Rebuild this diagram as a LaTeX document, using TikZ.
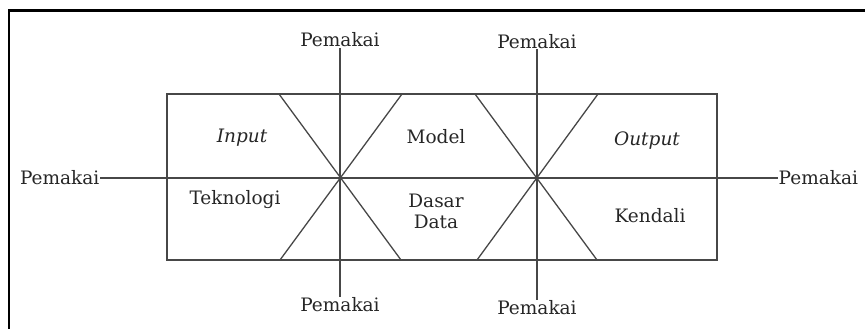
\documentclass[tikz,border=0pt]{standalone}
\usepackage{fontspec}
\setmainfont{DejaVu Serif}
\begin{document}
\begin{tikzpicture}[x=1pt,y=-1pt,
  ln/.style={draw=black!72, line width=1.3pt},
  lbl/.style={font=\fontsize{18.5}{21}\selectfont, text=black!85, inner sep=0.5pt},
  cell/.style={font=\fontsize{18.5}{21}\selectfont, text=black!85, inner sep=0.5pt, align=center}]
\useasboundingbox (0,0) rectangle (865,329);
% outer frame
\draw[line width=2.2pt] (9,329) -- (9,10.5) -- (865,10.5);
% labels
\node[lbl, anchor=east] (pl) at (100,178) {Pemakai};
\node[lbl, anchor=west] (pr) at (778,178) {Pemakai};
\node[lbl] (pt1) at (340,40) {Pemakai};
\node[lbl] (pt2) at (537,41.5) {Pemakai};
\node[lbl] (pb1) at (340,305) {Pemakai};
\node[lbl] (pb2) at (537,308) {Pemakai};
% box
\coordinate (r1) at (167,94);
\coordinate (r2) at (717,260);
\draw[ln] (r1) rectangle (r2);
% crossing lines
\draw[ln] (pl.east) -- (pr.west);
\draw[ln] (pt1.south) -- (pb1.north);
\draw[ln] (pt2.south) -- (pb2.north);
\coordinate (a1) at (279,94); \coordinate (a2) at (401,260);
\coordinate (a3) at (402,94); \coordinate (a4) at (280,260);
\coordinate (b1) at (475,94); \coordinate (b2) at (597,260);
\coordinate (b3) at (598,94); \coordinate (b4) at (477,260);
\draw[ln] (a1) -- (a2);
\draw[ln] (a3) -- (a4);
\draw[ln] (b1) -- (b2);
\draw[ln] (b3) -- (b4);
% cell texts
\node[cell] (inp) at (242,138) {\itshape Input};
\node[cell] (mod) at (436,137) {Model};
\node[cell] (out) at (647,141) {\itshape Output};
\node[cell] (tek) at (235,200) {Teknologi};
\node[cell, font=\fontsize{18.5}{21}\selectfont] (dd) at (436,211) {Dasar\\Data};
\node[cell] (ken) at (650,216) {Kendali};
\end{tikzpicture}
\end{document}
